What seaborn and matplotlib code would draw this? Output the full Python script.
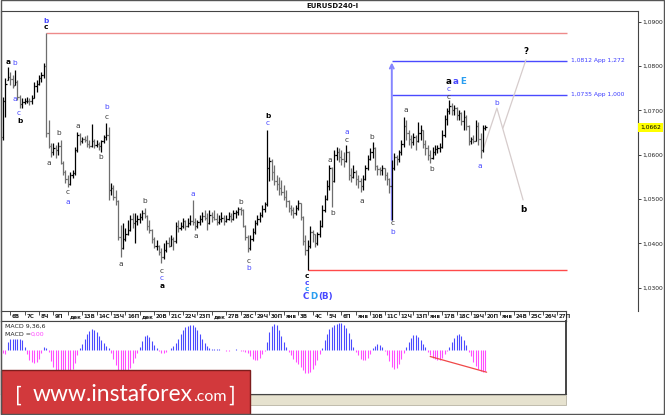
import numpy as np
import matplotlib
matplotlib.use("Agg")
import matplotlib.pyplot as plt
import seaborn as sns
from matplotlib.collections import LineCollection
from matplotlib.patches import Rectangle

sns.set_theme(style="white")
plt.rcParams["font.family"] = ["DejaVu Sans"]

# EURUSD H4 bars (open = previous close)
OPEN0 = 1.0640
HIGH = np.array([
    1.0730, 1.0773, 1.0798, 1.0786, 1.0779, 1.0791, 1.0768, 1.0735, 1.0727, 1.0727,
    1.0730, 1.0727, 1.0735, 1.0763, 1.0768, 1.0779, 1.0786, 1.0807, 1.0874, 1.0678,
    1.0626, 1.0626, 1.0622, 1.0629, 1.0633, 1.0585, 1.0566, 1.0554, 1.0561, 1.0566,
    1.0617, 1.0651, 1.0648, 1.0640, 1.0642, 1.0645, 1.0633, 1.0669, 1.0636, 1.0633,
    1.0629, 1.0633, 1.0645, 1.0671, 1.0662, 1.0536, 1.0532, 1.0521, 1.0497, 1.0441,
    1.0445, 1.0434, 1.0453, 1.0464, 1.0468, 1.0468, 1.0464, 1.0468, 1.0475, 1.0479,
    1.0464, 1.0453, 1.0432, 1.0414, 1.0407, 1.0396, 1.0389, 1.0400, 1.0407, 1.0414,
    1.0418, 1.0414, 1.0448, 1.0453, 1.0448, 1.0457, 1.0453, 1.0457, 1.0464, 1.0497,
    1.0457, 1.0453, 1.0464, 1.0470, 1.0475, 1.0468, 1.0475, 1.0470, 1.0475, 1.0468,
    1.0464, 1.0470, 1.0464, 1.0464, 1.0470, 1.0468, 1.0475, 1.0475, 1.0482, 1.0482,
    1.0478, 1.0442, 1.0418, 1.0418, 1.0434, 1.0453, 1.0464, 1.0470, 1.0486, 1.0493,
    1.0656, 1.0595, 1.0590, 1.0577, 1.0554, 1.0550, 1.0543, 1.0532, 1.0521, 1.0497,
    1.0486, 1.0482, 1.0486, 1.0497, 1.0492, 1.0462, 1.0418, 1.0407, 1.0439, 1.0430,
    1.0420, 1.0425, 1.0453, 1.0486, 1.0509, 1.0543, 1.0577, 1.0572, 1.0611, 1.0617,
    1.0615, 1.0611, 1.0606, 1.0622, 1.0608, 1.0570, 1.0577, 1.0566, 1.0554, 1.0547,
    1.0554, 1.0577, 1.0600, 1.0615, 1.0629, 1.0617, 1.0577, 1.0572, 1.0577, 1.0570,
    1.0561, 1.0547, 1.0588, 1.0604, 1.0600, 1.0611, 1.0633, 1.0685, 1.0678, 1.0656,
    1.0645, 1.0649, 1.0645, 1.0674, 1.0667, 1.0656, 1.0633, 1.0622, 1.0611, 1.0617,
    1.0622, 1.0622, 1.0627, 1.0656, 1.0689, 1.0705, 1.0723, 1.0716, 1.0712, 1.0708,
    1.0701, 1.0696, 1.0701, 1.0689, 1.0666, 1.0640, 1.0645, 1.0678, 1.0674, 1.0649,
    1.0667, 1.0667])
LOW = np.array([
    1.0634, 1.0685, 1.0768, 1.0757, 1.0750, 1.0757, 1.0723, 1.0705, 1.0705, 1.0714,
    1.0716, 1.0712, 1.0714, 1.0727, 1.0741, 1.0757, 1.0763, 1.0773, 1.0640, 1.0615,
    1.0595, 1.0600, 1.0592, 1.0600, 1.0578, 1.0554, 1.0536, 1.0527, 1.0532, 1.0547,
    1.0555, 1.0605, 1.0622, 1.0627, 1.0629, 1.0617, 1.0615, 1.0618, 1.0615, 1.0617,
    1.0611, 1.0606, 1.0627, 1.0633, 1.0497, 1.0510, 1.0497, 1.0486, 1.0408, 1.0370,
    1.0388, 1.0405, 1.0418, 1.0428, 1.0434, 1.0400, 1.0441, 1.0445, 1.0453, 1.0457,
    1.0430, 1.0423, 1.0400, 1.0389, 1.0385, 1.0373, 1.0355, 1.0365, 1.0380, 1.0391,
    1.0393, 1.0385, 1.0400, 1.0425, 1.0430, 1.0434, 1.0430, 1.0436, 1.0441, 1.0441,
    1.0430, 1.0434, 1.0441, 1.0448, 1.0453, 1.0430, 1.0443, 1.0448, 1.0453, 1.0441,
    1.0443, 1.0448, 1.0441, 1.0448, 1.0453, 1.0448, 1.0453, 1.0457, 1.0464, 1.0464,
    1.0436, 1.0407, 1.0380, 1.0385, 1.0405, 1.0422, 1.0441, 1.0448, 1.0460, 1.0470,
    1.0484, 1.0540, 1.0543, 1.0532, 1.0521, 1.0509, 1.0509, 1.0497, 1.0482, 1.0470,
    1.0464, 1.0457, 1.0464, 1.0475, 1.0453, 1.0396, 1.0373, 1.0340, 1.0390, 1.0403,
    1.0391, 1.0396, 1.0415, 1.0438, 1.0470, 1.0497, 1.0521, 1.0482, 1.0538, 1.0588,
    1.0584, 1.0577, 1.0572, 1.0583, 1.0543, 1.0538, 1.0547, 1.0532, 1.0525, 1.0516,
    1.0521, 1.0543, 1.0566, 1.0588, 1.0593, 1.0566, 1.0554, 1.0554, 1.0554, 1.0543,
    1.0532, 1.0514, 1.0453, 1.0565, 1.0577, 1.0584, 1.0600, 1.0617, 1.0633, 1.0622,
    1.0615, 1.0622, 1.0611, 1.0628, 1.0633, 1.0615, 1.0600, 1.0588, 1.0581, 1.0590,
    1.0600, 1.0604, 1.0606, 1.0615, 1.0640, 1.0667, 1.0692, 1.0689, 1.0689, 1.0678,
    1.0678, 1.0667, 1.0656, 1.0656, 1.0622, 1.0625, 1.0627, 1.0630, 1.0622, 1.0593,
    1.0605, 1.0656])
CLOSE = np.array([
    1.0720, 1.0760, 1.0775, 1.0770, 1.0755, 1.0765, 1.0730, 1.0715, 1.0718, 1.0720,
    1.0722, 1.0720, 1.0728, 1.0755, 1.0760, 1.0772, 1.0780, 1.0800, 1.0650, 1.0620,
    1.0605, 1.0615, 1.0610, 1.0620, 1.0582, 1.0560, 1.0545, 1.0535, 1.0555, 1.0558,
    1.0610, 1.0645, 1.0630, 1.0635, 1.0634, 1.0625, 1.0620, 1.0630, 1.0622, 1.0625,
    1.0620, 1.0630, 1.0640, 1.0645, 1.0520, 1.0525, 1.0505, 1.0495, 1.0415, 1.0390,
    1.0410, 1.0420, 1.0430, 1.0455, 1.0445, 1.0450, 1.0455, 1.0460, 1.0468, 1.0462,
    1.0440, 1.0430, 1.0410, 1.0395, 1.0395, 1.0380, 1.0370, 1.0385, 1.0400, 1.0395,
    1.0410, 1.0405, 1.0440, 1.0435, 1.0440, 1.0450, 1.0440, 1.0445, 1.0450, 1.0448,
    1.0440, 1.0448, 1.0455, 1.0462, 1.0458, 1.0445, 1.0465, 1.0460, 1.0455, 1.0448,
    1.0455, 1.0458, 1.0450, 1.0455, 1.0462, 1.0455, 1.0468, 1.0470, 1.0478, 1.0475,
    1.0440, 1.0415, 1.0390, 1.0410, 1.0425, 1.0445, 1.0455, 1.0465, 1.0478, 1.0488,
    1.0570, 1.0585, 1.0560, 1.0540, 1.0535, 1.0525, 1.0515, 1.0505, 1.0495, 1.0480,
    1.0475, 1.0468, 1.0480, 1.0490, 1.0460, 1.0405, 1.0385, 1.0395, 1.0425, 1.0420,
    1.0400, 1.0420, 1.0440, 1.0475, 1.0500, 1.0530, 1.0570, 1.0540, 1.0600, 1.0605,
    1.0595, 1.0590, 1.0585, 1.0605, 1.0555, 1.0550, 1.0560, 1.0545, 1.0540, 1.0530,
    1.0545, 1.0570, 1.0590, 1.0605, 1.0615, 1.0575, 1.0568, 1.0565, 1.0570, 1.0555,
    1.0545, 1.0530, 1.0570, 1.0595, 1.0590, 1.0605, 1.0625, 1.0665, 1.0650, 1.0635,
    1.0628, 1.0640, 1.0630, 1.0650, 1.0655, 1.0625, 1.0615, 1.0600, 1.0592, 1.0605,
    1.0612, 1.0615, 1.0618, 1.0645, 1.0680, 1.0698, 1.0710, 1.0700, 1.0705, 1.0690,
    1.0695, 1.0675, 1.0685, 1.0665, 1.0630, 1.0635, 1.0632, 1.0665, 1.0635, 1.0610,
    1.0660, 1.0662])

# MACD(9,36,6) histogram, in pips
MACD = np.array([
    -3, -4,
    8, 11, 11, 11, 11, 11, 10, 3,
    -4, -9, -11, -12, -11, -8, -3,
    3, 2, -2,
    -10, -16, -20, -22, -23, -24, -24, -23, -21, -18, -12, -5,
    2, 6, 11, 16, 19, 21, 20, 18, 14, 10, 7, 4, 2,
    -3, -8, -14, -19, -22, -23, -22, -20, -17, -12, -7, -3,
    3, 9, 14, 15, 13, 9, 5, 2,
    -1, -3, -3, -2, 0.5,
    2, 4, 7, 11, 16, 20, 23, 24, 25, 25, 23, 20, 16, 11, 7, 4, 2, 1,
    1, 1, 1, 0.5, 0.5, -0.5, -0.5, 0.5, 0.5, 1, 0.5, -0.5, -1, -2,
    -3, -6, -8, -9, -9, -7, -4, -1,
    8, 18, 24, 26, 25, 20, 14, 8, 3,
    -2, -5, -8, -11, -13, -16, -19, -22, -22, -21, -18, -14, -9, -4,
    2, 10, 16, 21, 23, 25, 26, 27, 27, 25, 22, 17, 11, 3,
    -2, -5, -8, -9, -9, -7, -4,
    2, 4, 6, 5, 3,
    -1, -5, -10, -16, -18, -17, -13, -8, -3,
    3, 8, 12, 15, 15, 13, 10, 6, 3,
    -2, -5, -7, -8, -9, -9, -7, -4, -1,
    3, 8, 12, 15, 16, 14, 10, 5,
    -2, -6, -11, -15, -18, -20, -21, -20])

DAY_LABELS = ["6В", "7С", "8Ч", "9П", "дек", "13В", "14С", "15Ч", "16П", "дек",
              "20В", "21С", "22Ч", "23П", "дек", "27В", "28С", "29Ч", "30П", "янв",
              "3В", "4С", "5Ч", "6П", "янв", "10В", "11С", "12Ч", "13П", "янв",
              "17В", "18С", "19Ч", "20П", "янв", "24В", "25С", "26Ч", "27П"]
FIRST_DAY_BAR = 3
BARS_PER_DAY = 6

PRICE_TICKS = [1.03, 1.04, 1.05, 1.06, 1.07, 1.08, 1.09]
LEVELS = [1.0735, 1.0812]
LEVEL_RATIOS = [1.000, 1.272]
ARROW_BAR = 162
ARROW_TOP = 1.0808
LEVEL_END = 235

# projected wave path (bar, price)
PATH_BARS = [200.4, 205.8, 216.7]
PATH_PRICES = [1.0617, 1.0705, 1.0498]
ALT_BARS = [208.3, 217.9]
ALT_PRICES = [1.0660, 1.0814]

WAVE_LABELS = [
    (17.9, 1.0902, "b", "blue", True), (17.9, 1.0887, "c", "black", True),
    (2.1, 1.0809, "a", "black", True), (5.0, 1.0807, "b", "blue", False),
    (5.0, 1.0726, "a", "blue", False), (6.7, 1.0694, "c", "blue", False),
    (7.1, 1.0676, "b", "black", True), (43.0, 1.0708, "b", "blue", False),
    (43.0, 1.0685, "c", "dark", False), (23.0, 1.0649, "b", "dark", False),
    (31.2, 1.0665, "a", "dark", False), (40.8, 1.0595, "b", "dark", False),
    (19.2, 1.0581, "a", "dark", False), (27.1, 1.0516, "c", "dark", False),
    (27.1, 1.0493, "a", "blue", False), (49.2, 1.0353, "a", "dark", False),
    (59.2, 1.0496, "b", "dark", False), (66.3, 1.0338, "c", "dark", False),
    (66.3, 1.0322, "c", "blue", False), (66.3, 1.0304, "a", "black", True),
    (79.2, 1.0511, "a", "blue", False), (80.4, 1.0417, "a", "dark", False),
    (99.2, 1.0493, "b", "dark", False), (102.5, 1.0360, "c", "dark", False),
    (102.5, 1.0344, "b", "blue", False), (110.4, 1.0687, "b", "black", True),
    (110.4, 1.0672, "c", "blue", False), (126.7, 1.0326, "c", "black", True),
    (126.7, 1.0311, "c", "blue", True), (126.7, 1.0297, "c", "light", True),
    (136.3, 1.0588, "a", "dark", False), (137.5, 1.0468, "b", "dark", False),
    (143.3, 1.0651, "a", "blue", False), (143.3, 1.0633, "c", "dark", False),
    (149.6, 1.0496, "a", "dark", False), (153.75, 1.0640, "b", "dark", False),
    (162.5, 1.0446, "c", "dark", False), (162.5, 1.0425, "b", "blue", False),
    (167.9, 1.0701, "a", "dark", False), (178.75, 1.0568, "b", "dark", False),
    (185.8, 1.0748, "c", "blue", False), (185.8, 1.0730, "c", "dark", False),
    (198.75, 1.0574, "a", "blue", False), (205.8, 1.0717, "b", "blue", False),
]
BIG_LABELS = [
    (185.8, 1.0764, "a", "black"), (188.75, 1.0764, "a", "blue"),
    (191.7, 1.0766, "E", "light"), (216.7, 1.0477, "b", "black"),
    (217.9, 1.0832, "?", "black"), (126.25, 1.0279, "C", "blue"),
    (129.6, 1.0279, "D", "light"), (134.6, 1.0279, "(B)", "blue"),
]
LABEL_COLORS = {"black": "#000000", "dark": "#3a3a3a", "blue": "#4848ff", "light": "#2a9ef0"}

W, H = 665, 415
BAR_PX, FIRST_PX = 2.4, 3.0
fig = plt.figure(figsize=(W / 100, H / 100), dpi=100)


def px_axes(x0, y0, x1, y1, **kw):
    return fig.add_axes([x0 / W, 1 - y1 / H, (x1 - x0) / W, (y1 - y0) / H], **kw)


def bar_at(px):
    return (px - FIRST_PX) / BAR_PX


def fmt(v, nd=4):
    return f"{v:.{nd}f}".replace(".", ",")


# ---- main price panel
ax = px_axes(1, 11, 638, 311)
ax.set_xlim(bar_at(1), bar_at(638))
ax.set_ylim(1.09 - (311 - 21.7) / 4433, 1.09 + (21.7 - 11) / 4433)
ax.set_facecolor("white")
for s in ["left", "top", "right"]:
    ax.spines[s].set_color("#444444")
    ax.spines[s].set_linewidth(0.8)
ax.spines["bottom"].set_visible(False)
ax.set_xticks([])
ax.yaxis.tick_right()
ax.set_yticks(PRICE_TICKS)
ax.set_yticklabels([fmt(v) for v in PRICE_TICKS])
ax.tick_params(axis="y", direction="out", length=2.5, width=0.6, pad=0.8,
               labelsize=4.3, colors="#222222")

n = len(CLOSE)
idx = np.arange(n)
opens = np.clip(np.r_[OPEN0, CLOSE[:-1]], LOW, HIGH)
bar_colors = np.where(CLOSE >= opens, "#000000", "#6e6e6e")
segs, cols = [], []
for i in idx:
    segs += [[(i, LOW[i]), (i, HIGH[i])],
             [(i - 0.5, opens[i]), (i, opens[i])],
             [(i, CLOSE[i]), (i + 0.5, CLOSE[i])]]
    cols += [bar_colors[i]] * 3
ax.add_collection(LineCollection(segs, colors=cols, linewidths=0.9, zorder=3))

# horizontal levels
peak = int(np.argmax(HIGH))
bottom = int(np.argmin(LOW))
ax.hlines(HIGH[peak], peak, LEVEL_END, color="#ee8a8a", lw=1, zorder=1)
ax.hlines(LOW[bottom], bottom, LEVEL_END, color="#ff4a4a", lw=1, zorder=1)
for lvl, r in zip(LEVELS, LEVEL_RATIOS):
    ax.hlines(lvl, ARROW_BAR, LEVEL_END, color="#4a4aff", lw=1, zorder=1)
    ax.text(LEVEL_END + 1.6, lvl, f"{fmt(lvl)} App {fmt(r, 3)}", fontsize=4.3,
            color="#3a3aff", ha="left", va="center")
ax.annotate("", xy=(ARROW_BAR, ARROW_TOP), xytext=(ARROW_BAR, LOW[ARROW_BAR]),
            arrowprops=dict(arrowstyle="->", color="#8585ff", lw=1.4,
                            mutation_scale=7, shrinkA=0, shrinkB=0), zorder=2)

# projected paths
sns.lineplot(x=PATH_BARS, y=PATH_PRICES, ax=ax, color="#d6cccc", lw=0.9, sort=False,
             zorder=2)
sns.lineplot(x=ALT_BARS, y=ALT_PRICES, ax=ax, color="#d6cccc", lw=0.9, sort=False,
             zorder=2)

for b, p, t, c, bold in WAVE_LABELS:
    ax.text(b, p, t, ha="center", va="center", color=LABEL_COLORS[c],
            fontsize=5.3, fontweight="bold" if bold else "normal", zorder=4)
for b, p, t, c in BIG_LABELS:
    ax.text(b, p, t, ha="center", va="center", color=LABEL_COLORS[c],
            fontsize=6.3, fontweight="bold", zorder=4)

ax.annotate(fmt(CLOSE[-1]), xy=(1, CLOSE[-1]), xycoords=("axes fraction", "data"),
            xytext=(1.6, 0), textcoords="offset points", ha="left", va="center",
            fontsize=4.3, color="#000000",
            bbox=dict(boxstyle="square,pad=0.35", fc="#ffff00", ec="none"))

# ---- date strip
ax_d = px_axes(1, 311, 566, 321)
ax_d.set_xlim(bar_at(1), bar_at(566))
ax_d.set_ylim(0, 1)
ax_d.set_xticks([])
ax_d.set_yticks([])
for s in ax_d.spines.values():
    s.set_color("#444444")
    s.set_linewidth(0.8)
day_bars = FIRST_DAY_BAR + BARS_PER_DAY * np.arange(len(DAY_LABELS))
ax_d.vlines(day_bars, 0.6, 1, color="#333333", lw=0.6)
for b, lbl in zip(day_bars, DAY_LABELS):
    ax_d.text(b + 0.7, 0.42, lbl, ha="left", va="center", fontsize=4.0,
              fontweight="bold", color="#222222")

# ---- MACD panel
ax_m = px_axes(1, 321, 566, 394)
ax_m.set_xlim(bar_at(1), bar_at(566))
ax_m.set_ylim(-43, 29)
ax_m.set_xticks([])
ax_m.set_yticks([])
ax_m.set_facecolor("white")
for s in ax_m.spines.values():
    s.set_color("#444444")
    s.set_linewidth(0.8)
ax_m.spines["right"].set_linewidth(1.4)
ax_m.vlines(idx, 0, MACD, colors=np.where(MACD > 0, "#4a4aff", "#ff4dff"), lw=0.8)
ax_m.plot([178, n - 0.5], [MACD[178] - 1, MACD[n - 2] - 0.5], color="#f04848", lw=0.9)

# ---- overlay: title, indicator caption, footer strip, banner, frame
ov = fig.add_axes([0, 0, 1, 1], zorder=10)
ov.set_xlim(0, W)
ov.set_ylim(H, 0)
ov.axis("off")
ov.patch.set_alpha(0)
ov.text(332, 6, "EURUSD240-I", ha="center", va="center", fontsize=5, fontweight="bold",
        color="#111111")
ov.text(5, 326.5, "MACD 9,36,6", ha="left", va="center", fontsize=4.5, color="#222222")
ov.text(5, 334.5, "MACD =", ha="left", va="center", fontsize=4.5, color="#222222")
ov.text(31, 334.5, "0,00", ha="left", va="center", fontsize=4.5, color="#ff44ff")
ov.add_patch(Rectangle((1, 395), 565, 10, fc="#e6e2cf", ec="#b8b4a4", lw=0.6))
ov.add_patch(Rectangle((0.5, 370), 249.5, 45, fc="#d2393c", ec="#7d1d1d", lw=1))

font = dict(family=["Lato", "DejaVu Sans"], fontweight="normal", color="white")
main = ov.text(33, 401, "www.instaforex", ha="left", va="baseline", fontsize=17, **font)
fig.canvas.draw()
r = fig.canvas.get_renderer()
bb = main.get_window_extent(r)
main.set_fontsize(17 * 160 / bb.width)
ov.text(193, 401, ".com", ha="left", va="baseline", fontsize=11.5, **font)
ov.text(15, 402, "[", ha="left", va="baseline", fontsize=16, **font)
ov.text(228, 402, "]", ha="left", va="baseline", fontsize=16, **font)

ov.add_patch(Rectangle((0.5, 0.5), 663, 413, fc="none", ec="#555555", lw=1))

fig.savefig("out.png", dpi=100)
